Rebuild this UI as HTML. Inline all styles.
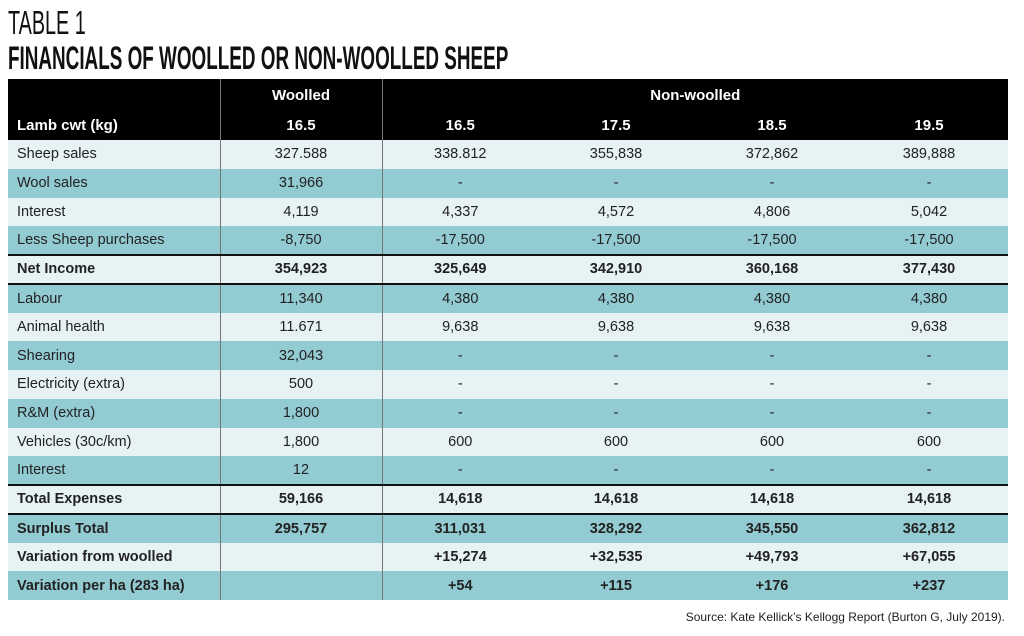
<!DOCTYPE html>
<html><head><meta charset="utf-8"><style>
body{margin:0;width:1024px;height:636px;background:#fff;position:relative;font-family:"Liberation Sans",sans-serif;color:#222;overflow:hidden}
.t{position:absolute;left:8px;white-space:nowrap;transform-origin:0 0;color:#111}
table{position:absolute;left:8px;top:79px;width:1000px;border-collapse:collapse;font-size:14.5px}
td{padding:0;height:28.75px;text-align:center;box-sizing:border-box}
td:first-child{text-align:left;padding-left:9px}
.c1{border-right:1.5px solid #777}
.c2{border-right:1.5px solid #777}
.l td{background:#e6f2f4}
.d td{background:#93cbd3}
.b td{font-weight:bold}
.tk td{border-bottom:2px solid #111}
.h td{background:#000;color:#fff;font-weight:bold;font-size:15px}
</style></head><body>
<div class="t" style="top:4px;font-size:33px;transform:scaleX(0.6)">TABLE 1</div>
<div class="t" style="top:40px;font-size:32px;font-weight:bold;transform:scaleX(0.59)">FINANCIALS OF WOOLLED OR NON-WOOLLED SHEEP</div>
<table>
<colgroup><col style="width:212px"><col style="width:162px"><col style="width:156px"><col style="width:156px"><col style="width:156px"><col style="width:158px"></colgroup>
<tr class="h"><td class="c1" style="height:32px"></td><td class="c2" style="height:32px">Woolled</td><td colspan="4" style="height:32px">Non-woolled</td></tr>
<tr class="h"><td class="c1" style="height:29px">Lamb cwt (kg)</td><td class="c2">16.5</td><td>16.5</td><td>17.5</td><td>18.5</td><td>19.5</td></tr>
<tr class="l"><td class="c1">Sheep sales</td><td class="c2">327.588</td><td>338.812</td><td>355,838</td><td>372,862</td><td>389,888</td></tr>
<tr class="d"><td class="c1">Wool sales</td><td class="c2">31,966</td><td>-</td><td>-</td><td>-</td><td>-</td></tr>
<tr class="l"><td class="c1">Interest</td><td class="c2">4,119</td><td>4,337</td><td>4,572</td><td>4,806</td><td>5,042</td></tr>
<tr class="d tk"><td class="c1">Less Sheep purchases</td><td class="c2">-8,750</td><td>-17,500</td><td>-17,500</td><td>-17,500</td><td>-17,500</td></tr>
<tr class="l b tk"><td class="c1">Net Income</td><td class="c2">354,923</td><td>325,649</td><td>342,910</td><td>360,168</td><td>377,430</td></tr>
<tr class="d"><td class="c1">Labour</td><td class="c2">11,340</td><td>4,380</td><td>4,380</td><td>4,380</td><td>4,380</td></tr>
<tr class="l"><td class="c1">Animal health</td><td class="c2">11.671</td><td>9,638</td><td>9,638</td><td>9,638</td><td>9,638</td></tr>
<tr class="d"><td class="c1">Shearing</td><td class="c2">32,043</td><td>-</td><td>-</td><td>-</td><td>-</td></tr>
<tr class="l"><td class="c1">Electricity (extra)</td><td class="c2">500</td><td>-</td><td>-</td><td>-</td><td>-</td></tr>
<tr class="d"><td class="c1">R&amp;M (extra)</td><td class="c2">1,800</td><td>-</td><td>-</td><td>-</td><td>-</td></tr>
<tr class="l"><td class="c1">Vehicles (30c/km)</td><td class="c2">1,800</td><td>600</td><td>600</td><td>600</td><td>600</td></tr>
<tr class="d tk"><td class="c1">Interest</td><td class="c2">12</td><td>-</td><td>-</td><td>-</td><td>-</td></tr>
<tr class="l b tk"><td class="c1">Total Expenses</td><td class="c2">59,166</td><td>14,618</td><td>14,618</td><td>14,618</td><td>14,618</td></tr>
<tr class="d b"><td class="c1">Surplus Total</td><td class="c2">295,757</td><td>311,031</td><td>328,292</td><td>345,550</td><td>362,812</td></tr>
<tr class="l b"><td class="c1">Variation from woolled</td><td class="c2"></td><td>+15,274</td><td>+32,535</td><td>+49,793</td><td>+67,055</td></tr>
<tr class="d b"><td class="c1">Variation per ha (283 ha)</td><td class="c2"></td><td>+54</td><td>+115</td><td>+176</td><td>+237</td></tr>
</table>
<div style="position:absolute;right:19px;top:610px;font-size:12px;color:#222">Source: Kate Kellick’s Kellogg Report (Burton G, July 2019).</div>
</body></html>
